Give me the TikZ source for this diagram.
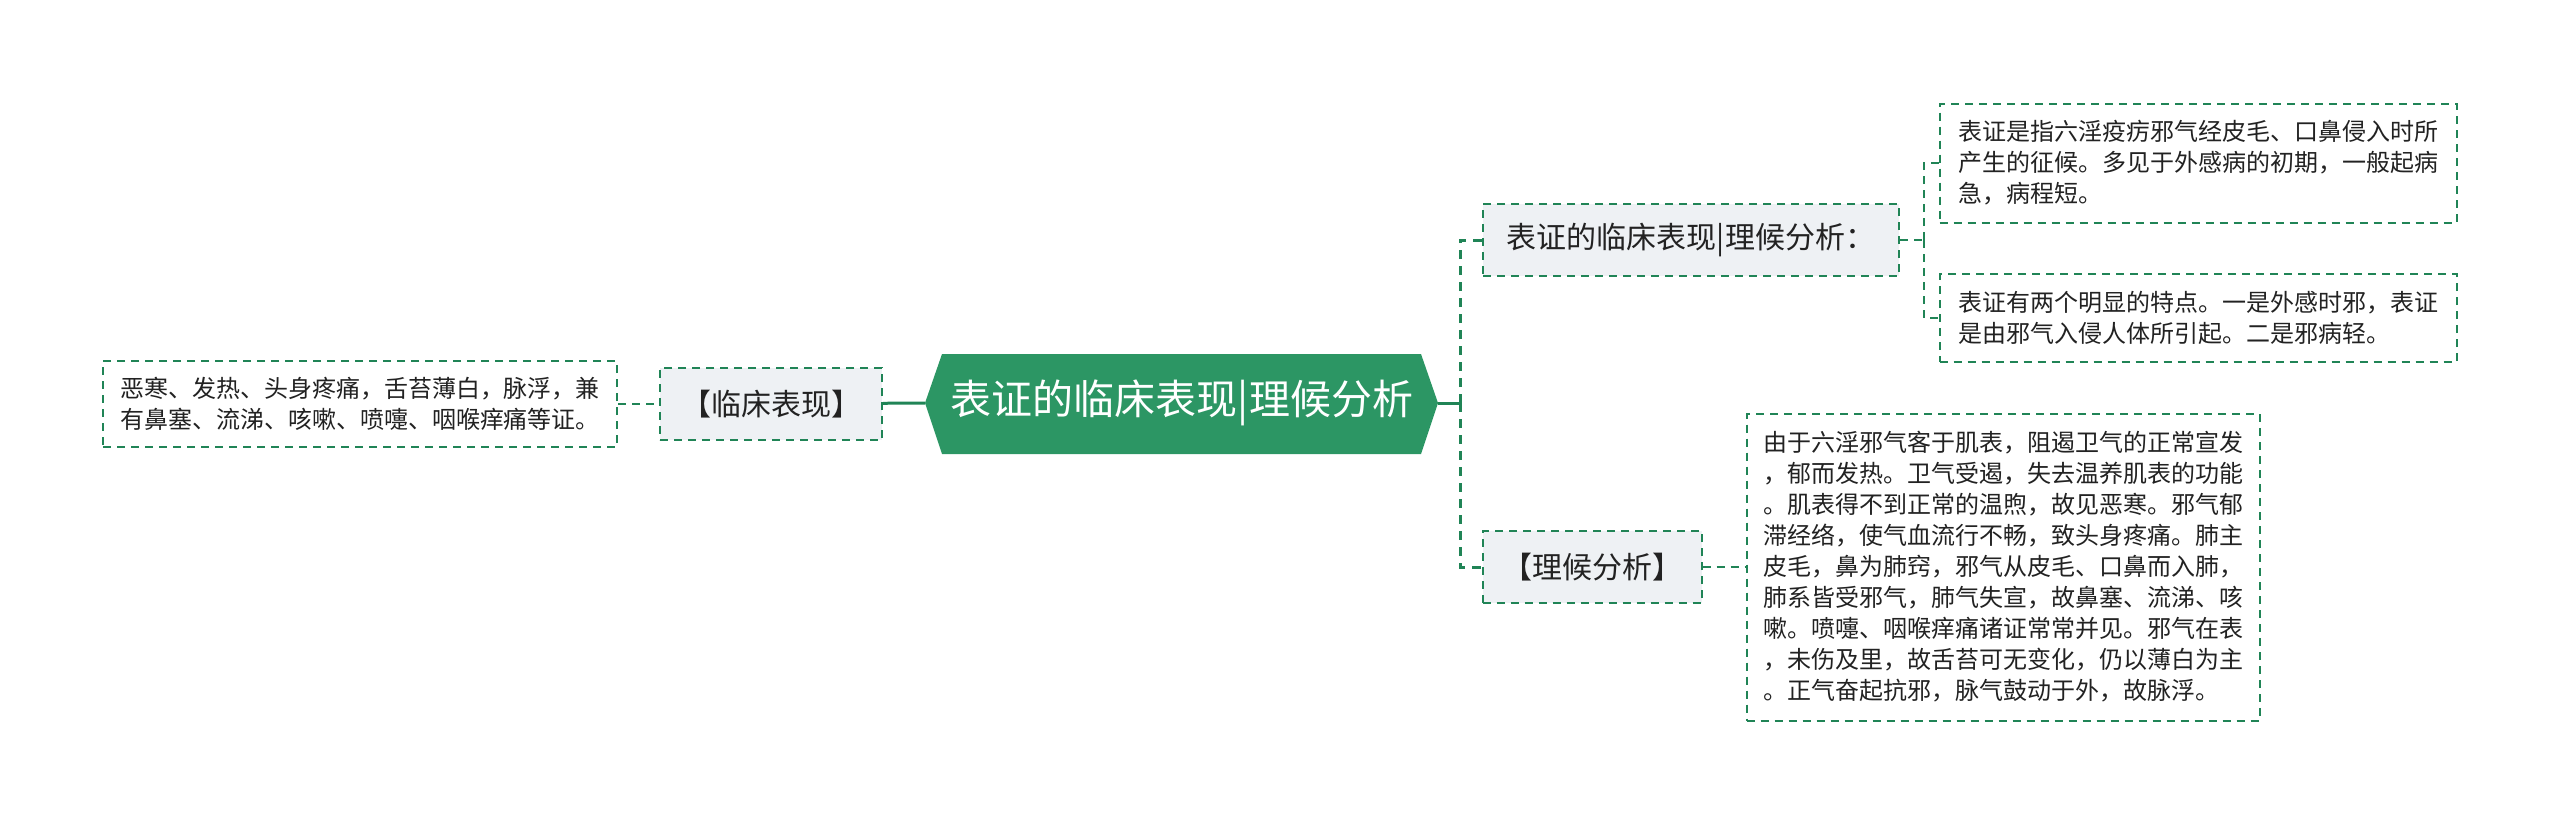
\documentclass[tikz,border=0pt]{standalone}
\usepackage{fontspec}
\setmainfont{Noto Sans CJK SC}
\usetikzlibrary{calc}
\definecolor{mapgreen}{RGB}{44,150,100}
\definecolor{linegreen}{RGB}{32,132,86}
\definecolor{boxgray}{RGB}{238,241,244}
\definecolor{txtgray}{RGB}{34,34,34}

\begin{document}
\begin{tikzpicture}[x=1pt, y=-1pt,
  txtbox/.style={draw=linegreen, line width=2pt, dash pattern=on 8pt off 6pt, fill=white, align=left, inner sep=0pt, text=txtgray, font=\fontsize{24}{31}\selectfont},
  lblbox/.style={draw=linegreen, line width=2pt, dash pattern=on 8pt off 6pt, fill=boxgray, inner sep=0pt, text=txtgray, font=\fontsize{30}{36}\selectfont},
  link/.style={linegreen, line width=2pt, dash pattern=on 8pt off 6pt},
  trunk/.style={linegreen, line width=3pt, dash pattern=on 9pt off 7pt}]

\useasboundingbox (0,0) rectangle (2560,825);

% First, the centre hexagon and its two tips
\fill[mapgreen] (925,403) -- (942,354) -- (1421,354) -- (1438,403) -- (1421,454) -- (942,454) -- cycle;
\draw (1182,403) node[text=white, font=\fontsize{41}{48}\selectfont] (root) {表证的临床表现|理候分析};
\coordinate (rootW) at (925,403);
\coordinate (rootE) at (1438,403);

% Left branch
\draw (360,404) node[txtbox, minimum width=514, minimum height=86] (sympt) {恶寒、发热、头身疼痛，舌苔薄白，脉浮，兼\\有鼻塞、流涕、咳嗽、喷嚏、咽喉痒痛等证。};
\draw (771,404) node[lblbox, minimum width=222, minimum height=72] (clin) {【临床表现】};

% Right branch
\draw (1691,240) node[lblbox, minimum width=416, minimum height=72] (biao) {表证的临床表现|理候分析：};
\draw (1592,567) node[lblbox, minimum width=219, minimum height=72] (fenxi) {【理候分析】};
\draw (2198,163) node[txtbox, minimum width=517, minimum height=119] (def) {表证是指六淫疫疠邪气经皮毛、口鼻侵入时所\\产生的征候。多见于外感病的初期，一般起病\\急，病程短。};
\draw (2198,318) node[txtbox, minimum width=517, minimum height=88] (feat) {表证有两个明显的特点。一是外感时邪，表证\\是由邪气入侵人体所引起。二是邪病轻。};
\draw (2003,567) node[txtbox, minimum width=513, minimum height=307] (expl) {由于六淫邪气客于肌表，阻遏卫气的正常宣发\\，郁而发热。卫气受遏，失去温养肌表的功能\\。肌表得不到正常的温煦，故见恶寒。邪气郁\\滞经络，使气血流行不畅，致头身疼痛。肺主\\皮毛，鼻为肺窍，邪气从皮毛、口鼻而入肺，\\肺系皆受邪气，肺气失宣，故鼻塞、流涕、咳\\嗽。喷嚏、咽喉痒痛诸证常常并见。邪气在表\\，未伤及里，故舌苔可无变化，仍以薄白为主\\。正气奋起抗邪，脉气鼓动于外，故脉浮。};

% Connectors
\draw[link] (sympt) -- (clin);
\draw[linegreen, line width=3pt] (clin) -- (rootW);
\draw[linegreen, line width=3pt] (rootE) -- ++(22,0) coordinate (fork);
\draw[trunk] (fork) |- (biao.west);
\draw[trunk] (fork) |- (fenxi.west);
\draw[link] (biao.east) -- ++(24,0) coordinate (fork2);
\draw[link] (fork2) |- (def.west);
\draw[link] (fork2) |- (feat.west);
\draw[link] (fenxi) -- (expl);

\end{tikzpicture}
\end{document}
